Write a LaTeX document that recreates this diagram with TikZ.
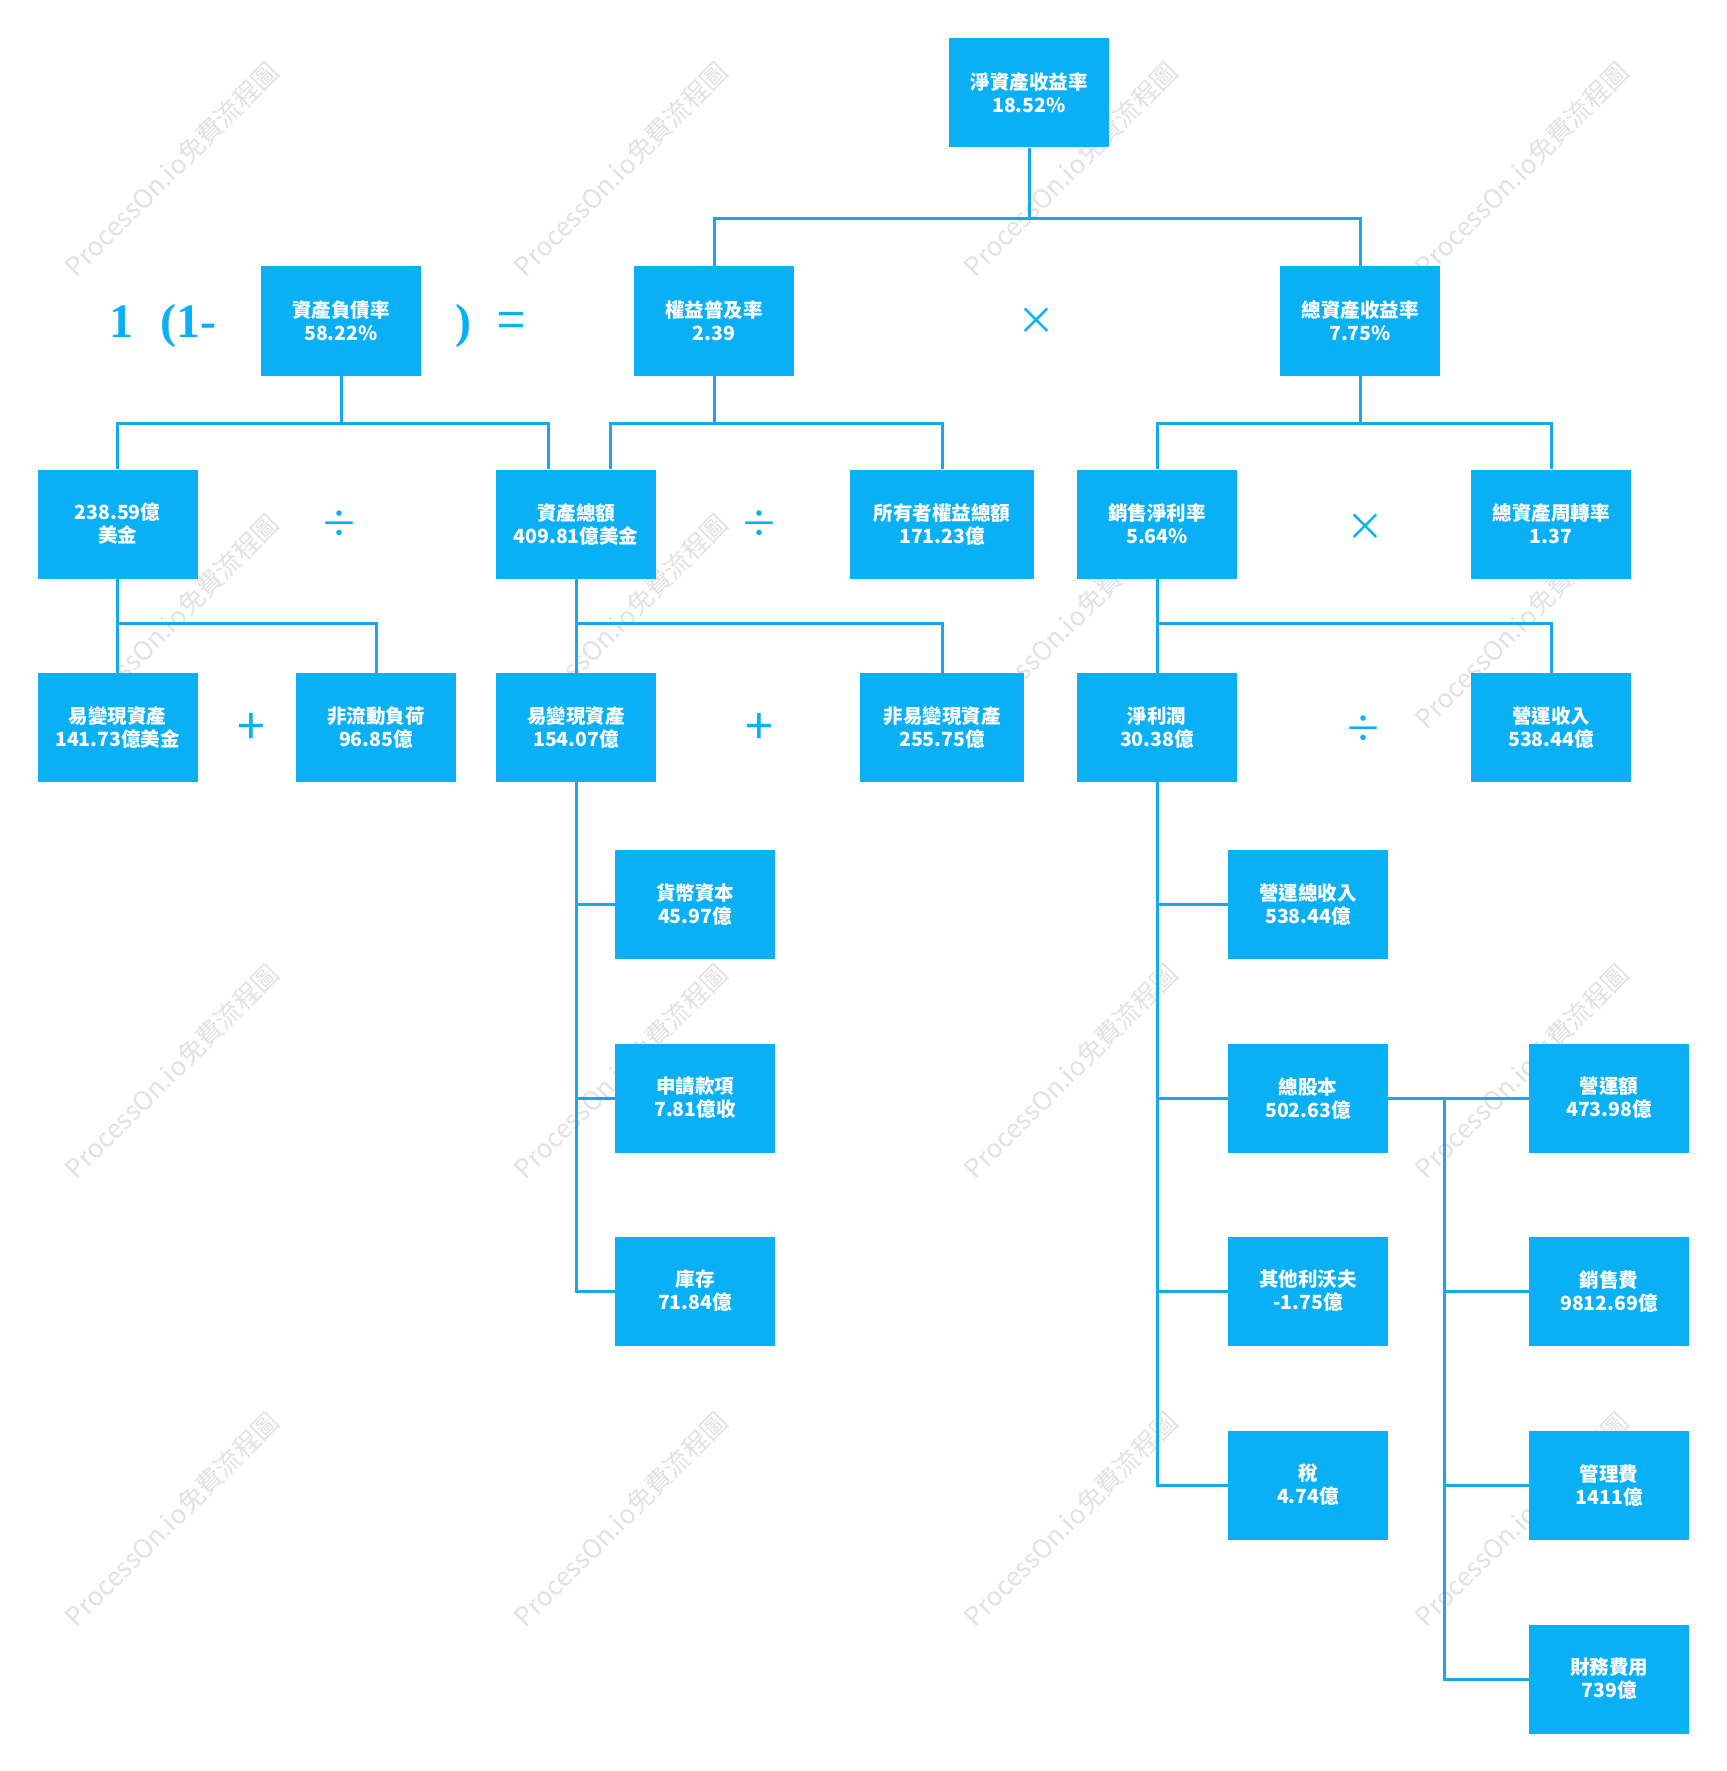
\documentclass[tikz,border=0pt]{standalone}
\usepackage{fontspec}
\newfontfamily\cjk{Noto Sans CJK TC}
\newfontfamily\opserif{Liberation Serif}
\definecolor{boxblue}{RGB}{10,176,246}
\definecolor{lineblue}{RGB}{22,168,238}
\definecolor{wmgray}{RGB}{226,226,226}
\begin{document}
\begin{tikzpicture}[x=1pt,y=-1pt,
  box/.style={fill=boxblue, draw=none, minimum width=160pt, minimum height=109pt, inner sep=0pt,
    text=white, font=\cjk\bfseries\fontsize{19.5}{23}\selectfont, align=center},
  conn/.style={draw=lineblue, line width=3pt},
  op/.style={text=boxblue, font=\cjk\fontsize{38}{38}\selectfont, inner sep=0pt},
  bigop/.style={text=boxblue, font=\cjk\fontsize{50}{50}\selectfont, inner sep=0pt},
  serifop/.style={text=boxblue, font=\opserif\bfseries\fontsize{48}{48}\selectfont, inner sep=0pt, anchor=base},
  wm/.style={text=wmgray, font=\cjk\fontsize{26}{26}\selectfont, rotate=45, inner sep=0pt}]
\useasboundingbox (0,0) rectangle (1726,1771);
\fill[white] (0,0) rectangle (1726,1771);

% watermarks
\foreach \wx in {172,621,1071,1522}{
  \foreach \wy in {169,621,1071,1519}{
    \node[wm] at (\wx,\wy) {ProcessOn.io免費流程圖};
  }
}

% bus levels
\coordinate (bus0) at (0,219);
\coordinate (bus1) at (0,423.6);
\coordinate (bus2) at (0,623.5);
\coordinate (trA) at (576,0);
\coordinate (trB) at (1157,0);
\coordinate (trC) at (1444,0);

% row 0
\node[box] (roe) at (1029,93) {淨資產收益率\\18.52\%};
% row 1
\node[box] (fzl) at (341,321) {資產負債率\\58.22\%};
\node[box] (qy) at (714,321) {權益普及率\\2.39};
\node[box] (zsy) at (1360,321) {總資產收益率\\7.75\%};
% row 2
\node[box] (mj) at (117.5,524) {238.59億\\美金};
\node[box] (zcze) at (576,524) {資產總額\\409.81億美金};
\node[box, minimum width=184pt] (syz) at (942,524) {所有者權益總額\\171.23億};
\node[box] (xsl) at (1157,524) {銷售淨利率\\5.64\%};
\node[box] (zzz) at (1551,524) {總資產周轉率\\1.37};
% row 3
\node[box] (ybx1) at (117.5,727.5) {易變現資產\\141.73億美金};
\node[box] (fld) at (376,727.5) {非流動負荷\\96.85億};
\node[box] (ybx2) at (576,727.5) {易變現資產\\154.07億};
\node[box, minimum width=164pt] (fyb) at (942,727.5) {非易變現資產\\255.75億};
\node[box] (jlr) at (1157,727.5) {淨利潤\\30.38億};
\node[box] (yysr) at (1551,727.5) {營運收入\\538.44億};
% column A
\node[box] (hb) at (695,904) {貨幣資本\\45.97億};
\node[box] (sq) at (695,1098) {申請款項\\7.81億收};
\node[box] (kc) at (695,1291) {庫存\\71.84億};
% column B
\node[box] (yyzsr) at (1308,904) {營運總收入\\538.44億};
\node[box] (zgb) at (1308,1098) {總股本\\502.63億};
\node[box] (qt) at (1308,1291) {其他利沃夫\\-1.75億};
\node[box] (tax) at (1308,1485) {稅\\4.74億};
% column C
\node[box] (yye) at (1609,1098) {營運額\\473.98億};
\node[box] (xsf) at (1609,1291) {銷售費\\9812.69億};
\node[box] (glf) at (1609,1485) {管理費\\1411億};
\node[box] (cwf) at (1609,1679) {財務費用\\739億};

% connectors
\draw[conn] (roe.south) -- (roe.south |- bus0) -| (qy.north);
\draw[conn] (roe.south |- bus0) -| (zsy.north);
\draw[conn] (fzl.south) -- (fzl.south |- bus1) -| (mj.north);
\draw[conn] (fzl.south |- bus1) -| ([xshift=-28pt]zcze.north);
\draw[conn] (qy.south) -- (qy.south |- bus1) -| ([xshift=34pt]zcze.north);
\draw[conn] (qy.south |- bus1) -| (syz.north);
\draw[conn] (zsy.south) -- (zsy.south |- bus1) -| (xsl.north);
\draw[conn] (zsy.south |- bus1) -| (zzz.north);
\draw[conn] (mj.south) -- (ybx1.north);
\draw[conn] (mj.south |- bus2) -| (fld.north);
\draw[conn] (zcze.south) -- (ybx2.north);
\draw[conn] (zcze.south |- bus2) -| (fyb.north);
\draw[conn] (xsl.south) -- (jlr.north);
\draw[conn] (xsl.south |- bus2) -| (yysr.north);
% column A
\draw[conn] (ybx2.south) -- (trA |- kc.west) -- (kc.west);
\draw[conn] (trA |- hb.west) -- (hb.west);
\draw[conn] (trA |- sq.west) -- (sq.west);
% column B
\draw[conn] (jlr.south) -- (trB |- tax.west) -- (tax.west);
\draw[conn] (trB |- yyzsr.west) -- (yyzsr.west);
\draw[conn] (trB |- zgb.west) -- (zgb.west);
\draw[conn] (trB |- qt.west) -- (qt.west);
% column C
\draw[conn] (zgb.east) -- (yye.west);
\draw[conn] (trC |- zgb.east) -- (trC |- cwf.west) -- (cwf.west);
\draw[conn] (trC |- xsf.west) -- (xsf.west);
\draw[conn] (trC |- glf.west) -- (glf.west);

% operators
\node[serifop] (one) at (121,337) {1};
\node[serifop] (open) at (188,337) {(1-};
\node[serifop] (close) at (463,337) {)};
\node[bigop] (eq) at (511,325) {=};
\node[op] (m1) at (1036,321) {×};
\node[op] (d1) at (339,524) {÷};
\node[op] (d2) at (759,524) {÷};
\node[op] (m2) at (1365,527) {×};
\node[bigop] (p1) at (251,729) {+};
\node[bigop] (p2) at (759,729) {+};
\node[op] (d3) at (1363,729) {÷};
\end{tikzpicture}
\end{document}
